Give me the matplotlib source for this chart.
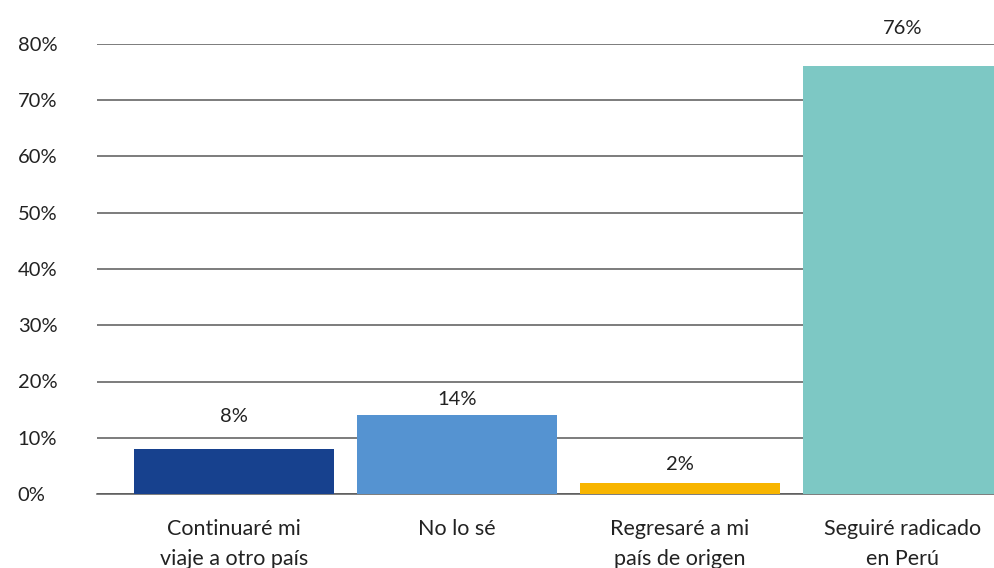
import matplotlib.pyplot as plt

plt.rcParams['font.family'] = ['Lato', 'DejaVu Sans']

categories = ["Continuaré mi\nviaje a otro país", "No lo sé",
              "Regresaré a mi\npaís de origen", "Seguiré radicado\nen Perú"]
values = [8, 14, 2, 76]
value_labels = ["8%", "14%", "2%", "76%"]
yticks = [0, 10, 20, 30, 40, 50, 60, 70, 80]
ytick_labels = ["0%", "10%", "20%", "30%", "40%", "50%", "60%", "70%", "80%"]
colors = ["#17418e", "#5593d1", "#f8b500", "#7dc8c4"]
label_offsets = [24, 7, 10, 29]  # px above bar top, as in the original

W, H = 995, 568
fig = plt.figure(figsize=(W / 100, H / 100), dpi=100)
# axes runs slightly past the right edge, the last bar is cut off in the source
ax = fig.add_axes([97 / W, 74 / H, (1014.5 - 97) / W, 450 / H])

x = range(len(categories))
bars = ax.bar(x, values, width=0.9, color=colors, zorder=3)
ax.set_xlim(-0.614, 3.5)
ax.set_ylim(0, 80)

for b, lab, off in zip(bars, value_labels, label_offsets):
    ax.annotate(lab, (b.get_x() + b.get_width() / 2, b.get_height()),
                xytext=(0, off * 0.72), textcoords='offset points',
                ha='center', va='bottom', fontsize=14.5, color='#222222')

ax.set_yticks(yticks)
ax.set_yticklabels(ytick_labels, fontsize=14.5, color='#222222')
for t in ax.get_yticklabels():
    t.set_horizontalalignment('left')
ax.tick_params(axis='y', length=0, pad=57)
ax.set_xticks(list(x))
ax.set_xticklabels(categories, fontsize=15.5, color='#222222', linespacing=1.6)
ax.tick_params(axis='x', length=0, pad=18)

ax.grid(axis='y', color='#595959', linewidth=1.1, zorder=0)
for s in ['top', 'right', 'left']:
    ax.spines[s].set_visible(False)
ax.spines['bottom'].set_color('#595959')
ax.spines['bottom'].set_linewidth(1.1)

fig.savefig("out.png", dpi=100)
